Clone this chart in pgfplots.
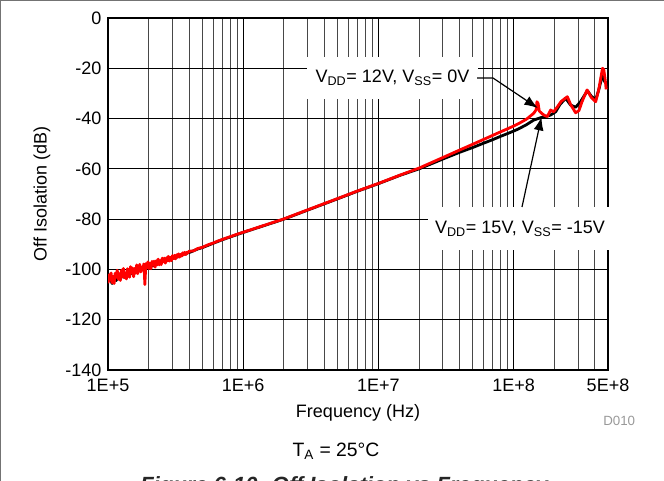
\documentclass[border=0pt]{standalone}
\usepackage{fontspec}
\setmainfont{Liberation Sans}
\usepackage{pgfplots}
\pgfplotsset{compat=1.18}
\usepackage{pgfplotstable}
\usetikzlibrary{arrows.meta}

% VDD = 15V, VSS = -15V (black)
\pgfplotstableread{
f db
1.000e5 -104.6
1.035e5 -103.2
1.072e5 -105.6
1.110e5 -103.5
1.150e5 -104.4
1.191e5 -102.6
1.233e5 -103.9
1.277e5 -102.0
1.322e5 -103.2
1.369e5 -101.4
1.418e5 -102.4
1.468e5 -100.7
1.520e5 -101.9
1.574e5 -100.1
1.630e5 -101.0
1.688e5 -99.6
1.747e5 -100.4
1.809e5 -99.0
1.873e5 -100.0
1.940e5 -98.5
2.009e5 -99.2
2.080e5 -97.9
2.154e5 -98.6
2.230e5 -97.4
2.309e5 -98.0
2.391e5 -96.9
2.475e5 -97.5
2.563e5 -96.4
2.654e5 -96.9
2.748e5 -95.9
2.845e5 -96.3
2.946e5 -95.4
3.050e5 -95.7
3.158e5 -94.9
3.270e5 -95.1
3.386e5 -94.4
3.506e5 -94.5
3.630e5 -93.9
3.759e5 -93.9
3.892e5 -93.3
4.030e5 -93.2
4.6e5 -91.9
5.0e5 -91.3
6.0e5 -89.6
7.0e5 -88.2
8.0e5 -87.1
1.0e6 -85.3
1.5e6 -82.2
2.0e6 -80.0
3.0e6 -76.4
5.0e6 -71.9
7.0e6 -68.9
1.0e7 -65.9
1.46e7 -62.5
2.0e7 -60.0
3.0e7 -56.1
4.0e7 -53.4
5.0e7 -51.5
6.0e7 -49.8
7.0e7 -48.4
8.0e7 -47.1
9.0e7 -46.0
1.0e8 -45.0
1.1e8 -44.0
1.25e8 -42.4
1.41e8 -40.6
1.6e8 -39.6
1.75e8 -39.1
1.88e8 -38.6
2.05e8 -37.3
2.2e8 -34.5
2.43e8 -31.9
2.64e8 -34.6
2.88e8 -35.5
3.13e8 -33.3
3.52e8 -28.9
3.75e8 -31.0
4.05e8 -32.6
4.3e8 -28.0
4.54e8 -22.7
4.72e8 -25.3
4.9e8 -26.0
}\blacktab

% VDD = 12V, VSS = 0V (red)
\pgfplotstableread{
f db
1.000e5 -105.5
1.018e5 -102.1
1.035e5 -104.3
1.054e5 -101.4
1.072e5 -105.3
1.091e5 -102.8
1.110e5 -105.6
1.130e5 -101.5
1.150e5 -103.1
1.170e5 -100.3
1.191e5 -103.9
1.212e5 -101.7
1.233e5 -104.4
1.255e5 -100.3
1.277e5 -102.9
1.300e5 -99.6
1.322e5 -103.3
1.346e5 -101.4
1.369e5 -103.8
1.393e5 -99.7
1.418e5 -101.1
1.443e5 -103.1
1.468e5 -98.9
1.494e5 -101.4
1.520e5 -99.4
1.547e5 -102.9
1.574e5 -99.6
1.602e5 -101.4
1.630e5 -98.2
1.658e5 -101.7
1.688e5 -99.4
1.717e5 -98.0
1.747e5 -101.0
1.778e5 -99.1
1.809e5 -100.3
1.841e5 -97.8
1.857e5 -100.9
1.873e5 -106.0
1.906e5 -97.7
1.940e5 -99.3
1.974e5 -97.0
2.009e5 -99.7
2.044e5 -97.6
2.080e5 -99.7
2.116e5 -96.8
2.154e5 -98.3
2.191e5 -96.7
2.230e5 -99.1
2.269e5 -96.6
2.309e5 -98.2
2.349e5 -95.9
2.391e5 -98.2
2.433e5 -96.5
2.475e5 -98.1
2.519e5 -95.5
2.563e5 -96.9
2.608e5 -95.5
2.654e5 -97.5
2.700e5 -95.4
2.748e5 -96.6
2.796e5 -94.8
2.845e5 -96.7
2.895e5 -95.2
2.946e5 -96.5
2.998e5 -94.5
3.050e5 -95.7
3.104e5 -94.4
3.158e5 -95.8
3.214e5 -94.2
3.270e5 -95.1
3.328e5 -93.8
3.386e5 -95.1
3.446e5 -94.0
3.506e5 -94.7
3.568e5 -93.4
3.630e5 -94.2
3.694e5 -93.2
3.759e5 -94.1
3.825e5 -93.2
3.892e5 -93.5
3.961e5 -92.8
4.3e5 -92.6
4.6e5 -91.7
5.0e5 -91.2
5.5e5 -90.2
6.0e5 -89.5
6.5e5 -88.7
7.0e5 -88.1
7.5e5 -87.5
8.0e5 -87.0
9.0e5 -86.0
1.0e6 -85.2
1.5e6 -82.1
2.0e6 -79.9
3.0e6 -76.3
5.0e6 -71.8
7.0e6 -68.8
1.0e7 -65.8
1.46e7 -62.4
2.0e7 -59.7
3.0e7 -55.5
4.0e7 -52.5
5.0e7 -50.2
6.0e7 -48.3
7.0e7 -46.7
8.0e7 -45.3
9.0e7 -44.1
1.0e8 -43.0
1.1e8 -41.9
1.25e8 -40.2
1.41e8 -37.9
1.47e8 -36.5
1.49e8 -33.3
1.52e8 -34.0
1.55e8 -37.0
1.62e8 -38.0
1.70e8 -38.8
1.78e8 -39.2
1.88e8 -36.6
1.98e8 -37.3
2.1e8 -35.5
2.25e8 -33.2
2.5e8 -31.3
2.65e8 -34.5
2.88e8 -37.7
3.05e8 -36.8
3.2e8 -33.5
3.5e8 -28.6
3.75e8 -31.5
4.05e8 -33.3
4.25e8 -29.0
4.45e8 -23.0
4.55e8 -20.0
4.65e8 -20.5
4.75e8 -24.0
4.85e8 -28.4
}\redtab

\begin{document}
\begin{tikzpicture}[x=0.75pt,y=0.75pt]
\useasboundingbox (-108,-111) rectangle (556,370);
\begin{axis}[
  at={(0,0)}, anchor=south west,
  scale only axis, width=375pt, height=264pt,
  xmode=log, xmin=1e5, xmax=5e8, ymin=-140, ymax=0,
  xtick={1e5,1e6,1e7,1e8,5e8},
  xticklabels={1E+5,1E+6,1E+7,1E+8,5E+8},
  minor xtick={2e5,3e5,4e5,5e5,6e5,7e5,8e5,9e5,2e6,3e6,4e6,5e6,6e6,7e6,8e6,9e6,2e7,3e7,4e7,5e7,6e7,7e7,8e7,9e7,2e8,3e8,4e8},
  ytick={-140,-120,-100,-80,-60,-40,-20,0},
  /pgf/number format/assume math mode=true,
  grid=both,
  major grid style={black, line width=0.7pt},
  minor grid style={black!72, line width=0.7pt},
  axis line style={line width=1.9pt},
  major tick length=0pt, minor tick length=0pt,
  tick label style={font=\fontsize{13.5}{16}\selectfont},
  xticklabel style={yshift=-3pt},
  yticklabel style={xshift=-1.5pt},
  label style={font=\fontsize{13.5}{16}\selectfont},
  xlabel={Frequency (Hz)},
  ylabel={Off Isolation (dB)},
  xlabel style={at={(axis description cs:0.5,-0.136)}, anchor=base},
  ylabel style={at={(axis description cs:-0.132,0.5)}, anchor=center},
]
\addplot[black, line width=2.1pt, line join=round] table[x=f, y=db] {\blacktab};
\addplot[red, line width=2.1pt, line join=round] table[x=f, y=db] {\redtab};
\coordinate (tipA) at (axis cs:1.51e8,-35.8);
\coordinate (tipB) at (axis cs:1.61e8,-39.4);
\end{axis}

% outer frame
\draw[black!55, line width=2pt] (-108,-111) -- (-108,370) -- (556,370);

% annotation 1
\node[fill=white, inner sep=0pt, minimum width=128pt, minimum height=32pt,
  font=\fontsize{13.5}{16}\selectfont] at (284.5,292)
  {V\textsubscript{DD}= 12V, V\textsubscript{SS}= 0V};
\draw[line width=0.9pt, -{Latex[length=10pt,width=7.5pt]}] (369,292) -- (385,292) -- (tipA);

% annotation 2
\node[fill=white, inner sep=0pt, minimum width=138pt, minimum height=32pt,
  font=\fontsize{13.5}{16}\selectfont] at (412,141.5)
  {V\textsubscript{DD}= 15V, V\textsubscript{SS}= -15V};
\draw[line width=0.9pt, -{Latex[length=10pt,width=7.5pt]}] (414,163) -- (tipB);

% texts below
\node[anchor=base west, inner sep=0pt, text=black!40, font=\fontsize{10}{12}\selectfont] at (495,-56) {D010};
\node[anchor=base, inner sep=0pt, font=\fontsize{14.5}{17}\selectfont] at (228,-87) {T\textsubscript{A} = 25°C};
\node[anchor=base west, inner sep=0pt, text=black!85, font=\fontsize{16.5}{19}\selectfont\bfseries\itshape] at (32,-123) {Figure 6-10. Off Isolation vs Frequency};
\end{tikzpicture}
\end{document}
